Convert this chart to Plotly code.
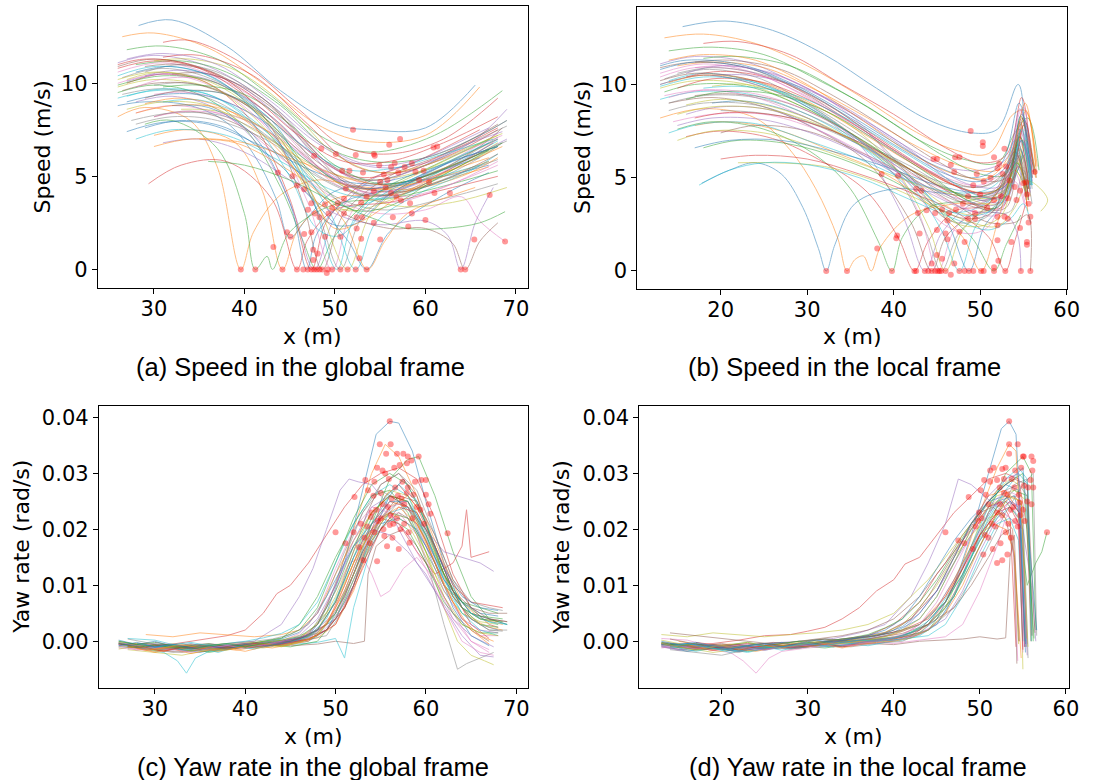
import plotly.graph_objects as go

# ---------------- (a) Speed in the global frame ----------------
speed_global_x = [
    [28.3, 32, 38, 44, 50, 54, 60, 65.5],
    [26.5, 30, 36, 42, 48, 53, 60, 66],
    [27, 31, 37, 43, 49, 54, 61, 68.5],
    [31, 34, 40, 46, 51, 56, 62, 68],
    [26, 30, 36, 42, 48, 53, 59, 65, 69],
    [26, 30, 36, 43, 49, 54, 60, 66, 68.5],
    [26, 31, 37, 44, 50, 55, 61, 68],
    [26.5, 31, 37, 44, 49, 54, 60, 68],
    [26, 30, 36, 42, 47, 51, 56, 62, 68],
    [26, 30, 36, 42, 47, 51, 57, 63, 68],
    [26, 29, 34, 38, 41, 43.5, 45, 47, 50, 56, 62, 67],
    [26, 29, 34, 37, 39.6, 41, 44, 48, 52, 58, 64, 68],
    [26, 30, 35, 40, 44, 46.5, 48, 50, 55, 61, 67],
    [27, 31, 36, 41, 45, 47.4, 49, 53, 59, 66],
    [28, 32, 37, 42, 45.5, 47.7, 50, 54, 60, 67],
    [29, 33, 38, 43, 46.5, 48.6, 51, 56, 62, 68],
    [26, 31, 37, 43, 47, 49.7, 52, 57, 63, 68.5],
    [30, 34, 39, 44, 48, 50.6, 53, 58, 64, 69],
    [27, 31, 37, 43, 48, 51.4, 54, 59, 65, 68],
    [31, 35, 40, 45, 49.5, 52.3, 54.5, 59, 65, 68],
    [29, 33, 38, 43, 48, 51.5, 53.5, 56, 62, 67],
    [30, 34, 39, 42, 44.2, 46, 50, 56, 62, 67],
    [29, 32, 37, 40, 41.2, 42.5, 43.1, 45, 50, 56, 63, 68],
    [29.4, 33, 38, 43, 45.8, 47, 50, 56, 63, 68],
    [31, 35, 40, 45, 50, 55, 60, 62.5, 63.9, 65.5, 67.5],
    [30, 34, 40, 46, 51, 56, 60, 63, 64.4, 66, 68],
    [28, 32, 38, 44, 50, 55, 60, 64, 66, 68.8],
    [26.5, 31, 37, 43, 49, 54, 60, 66, 68.5],
    [27, 31, 36, 42, 48, 53, 59, 65, 68],
    [28, 32, 38, 44, 50, 55, 61, 67],
    [27, 31, 36, 42, 48, 53, 58, 64, 68],
    [30, 34, 40, 46, 52, 57, 62, 67],
    [28, 33, 38, 44, 49, 54, 60, 66, 69],
    [31, 35, 41, 47, 52, 57, 63, 68],
    [29, 33, 39, 45, 50, 55, 61, 67, 69],
    [32, 36, 42, 47, 52, 57, 62, 67.5],
    [30, 34, 39, 45, 50, 56, 62, 68],
    [27.5, 32, 38, 44, 49, 55, 62, 68],
    [33, 37, 42, 47, 52, 57, 63, 69],
    [34, 38, 43, 47, 50.2, 52, 55, 60, 66],
    [32, 36, 41, 45, 46.9, 48, 51, 55, 61, 66],
    [35, 39, 44, 48, 51, 53.6, 55.5, 58, 62.5, 65.5],
    [36, 40, 45, 50, 55, 58, 62, 66, 68.8],
    [26, 30, 35, 41, 47, 52, 57, 63, 68],
    [27, 31, 36, 42, 48, 53, 58, 64, 68.5],
    [26.5, 30, 35, 41, 46, 51, 56, 62, 67],
    [28, 32, 37, 43, 48, 53, 58, 64, 68],
    [29, 33, 38, 44, 49, 54, 59, 65, 69],
    [30, 34, 39, 45, 50, 55, 60, 66, 68.5],
    [26, 30, 35, 40, 46, 51, 56, 62, 67.5],
    [27, 31, 36, 42, 47, 52, 57, 63, 68],
    [28, 32, 37, 42, 47, 52, 57, 62, 67],
    [31, 35, 40, 45, 50, 55, 60, 65, 68.5],
    [26, 29, 34, 40, 46, 51, 56, 62, 68],
    [27, 31, 37, 43, 49, 54, 60, 66, 69],
    [29, 33, 38, 43, 48, 53, 58, 63, 68],
    [30, 34, 39, 44, 49, 54, 59, 64, 68],
    [28, 32, 37, 43, 48, 53, 58, 64, 68],
    [26, 30, 35, 41, 45, 48, 51, 56, 62, 68],
    [27, 31, 36, 41, 45, 48, 50.5, 54, 60, 67],
    [28, 32, 37, 42, 46, 49, 52, 56, 62, 68],
    [29, 33, 38, 43, 47, 50, 53, 58, 64, 68.5],
    [26, 31, 37, 43, 48, 52, 56, 61, 67],
]
speed_global_y = [
    [13.1, 13.4, 12.0, 9.6, 7.8, 7.5, 7.6, 9.9],
    [12.5, 12.7, 11.9, 10.0, 7.8, 6.9, 7.2, 9.8],
    [11.8, 12.0, 11.3, 9.3, 7.0, 6.3, 7.2, 9.6],
    [12.2, 12.3, 11.0, 8.6, 6.6, 6.2, 7.0, 9.2],
    [11.1, 11.5, 10.9, 9.2, 6.8, 5.6, 5.6, 6.8, 8.6],
    [10.9, 11.3, 10.7, 8.7, 5.8, 4.6, 5.0, 6.6, 7.6],
    [10.6, 11.1, 10.3, 8.2, 5.4, 4.4, 5.4, 7.3],
    [10.3, 10.8, 10.1, 7.8, 5.1, 3.9, 4.9, 7.1],
    [9.8, 10.2, 9.8, 8.2, 5.2, 3.2, 3.7, 5.1, 6.6],
    [9.2, 9.6, 9.4, 7.6, 4.8, 3.4, 4.2, 5.6, 6.9],
    [8.8, 9.0, 8.8, 7.9, 6.2, 3.8, 1.7, 2.8, 4.2, 4.6, 5.0, 5.6],
    [8.2, 8.7, 8.0, 5.5, 0.0, 2.0, 4.0, 4.8, 4.5, 4.3, 5.0, 6.0],
    [9.5, 9.9, 9.4, 7.6, 4.4, 1.5, 0.0, 1.8, 4.2, 5.6, 7.0],
    [10.0, 10.5, 10.0, 7.8, 3.8, 0.0, 2.5, 4.6, 5.8, 7.5],
    [9.0, 9.3, 8.6, 6.4, 3.0, 0.0, 2.8, 4.8, 6.0, 7.6],
    [10.9, 11.0, 10.2, 7.6, 3.5, 0.0, 3.0, 5.0, 6.2, 7.8],
    [10.0, 10.5, 9.7, 7.3, 3.6, 0.0, 3.2, 5.0, 6.1, 7.2],
    [9.9, 10.0, 9.2, 7.0, 3.2, 0.0, 2.8, 4.6, 5.8, 6.9],
    [10.2, 10.6, 9.9, 7.6, 3.6, 0.0, 3.0, 4.8, 6.0, 6.8],
    [9.0, 9.1, 8.2, 6.2, 3.0, 0.0, 2.5, 4.0, 5.3, 6.2],
    [7.6, 8.0, 7.6, 6.0, 3.5, 1.5, 0.0, 2.0, 4.0, 5.2],
    [7.2, 7.5, 6.8, 4.2, 0.0, 2.2, 3.8, 4.0, 4.8, 5.5],
    [7.8, 8.0, 6.5, 3.0, 0.0, 0.7, 0.0, 2.0, 3.5, 3.8, 4.6, 5.3],
    [4.6, 5.6, 5.8, 3.8, 0.0, 1.6, 3.2, 3.6, 4.4, 5.0],
    [6.8, 7.0, 6.3, 4.8, 3.0, 2.4, 2.6, 1.8, 0.0, 2.5, 4.4],
    [8.2, 8.5, 7.6, 5.2, 3.0, 2.2, 2.2, 1.4, 0.0, 1.5, 2.5],
    [8.4, 8.8, 8.2, 6.0, 3.8, 3.0, 3.2, 3.9, 2.6, 1.5],
    [9.4, 9.7, 9.0, 7.0, 4.8, 4.0, 4.6, 6.0, 6.8],
    [8.6, 9.0, 8.8, 7.2, 5.5, 4.8, 5.2, 6.3, 7.0],
    [7.0, 7.5, 7.2, 5.8, 4.2, 3.8, 4.6, 5.8],
    [7.4, 7.9, 7.8, 6.6, 5.2, 4.6, 5.0, 6.0, 6.6],
    [6.6, 7.0, 6.8, 5.8, 4.8, 4.5, 5.0, 5.8],
    [11.0, 11.2, 10.6, 8.8, 6.6, 5.8, 6.0, 7.2, 8.0],
    [11.4, 11.5, 10.4, 7.8, 5.6, 5.2, 6.2, 7.5],
    [10.4, 10.7, 10.0, 7.6, 5.0, 4.2, 5.0, 6.5, 7.0],
    [10.5, 10.5, 9.2, 6.6, 4.4, 4.0, 5.2, 6.8],
    [9.4, 9.5, 8.8, 6.8, 4.6, 3.6, 4.4, 5.8],
    [8.0, 8.4, 8.2, 6.6, 4.2, 3.2, 3.8, 4.6],
    [8.6, 8.5, 7.6, 5.8, 4.2, 3.4, 3.6, 4.4],
    [9.6, 9.4, 8.0, 4.6, 0.0, 2.6, 4.2, 4.8, 5.6],
    [8.8, 8.7, 7.2, 3.6, 0.0, 1.9, 3.6, 4.2, 5.2, 6.0],
    [7.0, 6.8, 5.6, 4.2, 2.6, 0.0, 1.5, 3.0, 3.9, 4.4],
    [5.8, 5.6, 4.8, 3.6, 2.6, 2.2, 2.2, 2.5, 3.1],
    [10.8, 11.2, 10.8, 9.0, 6.4, 5.0, 5.2, 6.4, 7.6],
    [10.1, 10.5, 10.2, 8.6, 6.0, 4.8, 5.2, 6.6, 7.4],
    [9.6, 10.0, 9.9, 8.6, 6.4, 4.6, 4.4, 5.4, 6.4],
    [9.8, 10.3, 10.0, 8.0, 5.6, 4.2, 4.4, 5.8, 7.0],
    [10.6, 11.0, 10.4, 8.4, 5.8, 4.8, 5.4, 6.8, 7.7],
    [11.2, 11.3, 10.7, 8.6, 6.2, 5.2, 5.6, 6.8, 7.3],
    [10.4, 10.9, 10.6, 9.2, 6.8, 5.4, 5.4, 6.2, 7.0],
    [9.0, 9.4, 9.3, 8.0, 5.8, 4.4, 4.6, 5.8, 6.6],
    [8.4, 8.8, 8.7, 7.6, 5.6, 4.4, 4.4, 5.2, 6.0],
    [9.8, 9.9, 9.4, 7.8, 5.6, 4.6, 5.0, 6.0, 6.8],
    [11.0, 11.3, 11.0, 9.6, 7.2, 5.8, 5.8, 6.8, 8.2],
    [11.3, 11.6, 11.0, 9.0, 6.6, 5.6, 6.0, 7.2, 8.0],
    [9.2, 9.6, 9.4, 8.0, 5.8, 4.4, 4.2, 5.0, 6.2],
    [8.2, 8.5, 8.2, 7.0, 5.2, 4.0, 4.0, 4.8, 5.6],
    [7.8, 8.2, 8.0, 6.8, 5.0, 4.0, 4.2, 5.2, 5.9],
    [10.2, 10.6, 10.2, 8.2, 5.8, 3.6, 3.2, 4.4, 5.8, 7.2],
    [9.3, 9.7, 9.4, 7.8, 5.0, 2.2, 1.8, 3.6, 5.2, 6.8],
    [10.6, 10.9, 10.2, 8.0, 5.2, 2.6, 2.4, 4.0, 5.6, 7.0],
    [8.9, 9.2, 8.6, 6.8, 4.4, 2.2, 2.6, 4.2, 5.6, 6.6],
    [9.9, 10.4, 10.0, 7.8, 4.8, 3.2, 3.4, 4.8, 6.4],
]
speed_global_dot_x = [
    52.0, 56.0, 57.2, 61.3, 60.9, 47.7, 50.1, 52.3, 54.3, 54.4, 48.5, 43.7, 45.3, 45.8,
    46.6, 50.8, 51.6, 53.1, 54.9, 55.4, 56.2, 56.6, 57.0, 57.7, 58.5, 58.9, 59.3, 59.8,
    60.4, 61.0, 62.7, 67.1, 55.0, 55.6, 55.8, 56.2, 56.8, 57.3, 58.3, 54.3, 53.5, 52.9,
    51.2, 51.0, 50.3, 49.7, 49.3, 48.9, 47.4, 47.0, 47.8, 48.3, 51.0, 52.4, 53.0, 54.3,
    56.4, 58.5, 60.0, 58.1, 47.4, 46.6, 44.7, 45.1, 48.9, 50.6, 52.4, 52.9, 55.0, 65.4,
    68.8, 43.2, 47.6, 48.1, 52.7, 47.6,
    39.6, 41.2, 44.2, 45.8, 46.5, 47.0, 47.4, 47.7, 48.0, 48.3, 48.6, 49.2, 49.7, 50.6,
    51.4, 52.3, 53.5, 63.9, 64.4, 49.1,
]
speed_global_dot_y = [
    7.5, 6.7, 7.0, 6.6, 6.55, 6.1, 6.2, 6.15, 6.2, 6.1, 6.5, 5.2, 5.0, 4.5,
    4.3, 5.3, 5.3, 5.2, 5.6, 5.1, 5.5, 5.7, 5.2, 5.5, 5.7, 5.25, 4.8, 5.3,
    4.7, 4.1, 4.1, 4.0, 4.7, 4.4, 4.8, 4.1, 3.9, 3.7, 3.55, 4.2, 3.9, 3.6,
    4.35, 3.8, 3.55, 3.3, 3.0, 3.5, 3.55, 3.2, 3.0, 2.8, 3.0, 2.8, 2.8, 2.5,
    2.8, 3.0, 2.65, 2.3, 2.0, 1.9, 2.0, 1.75, 1.75, 1.75, 2.2, 1.65, 1.6, 1.6,
    1.5, 1.2, 1.05, 0.85, 0.6, 0.5,
    0, 0, 0, 0, 0, 0, 0, 0, 0, 0, 0, 0, 0, 0,
    0, 0, 0, 0, 0, -0.2,
]

# ---------------- (b) Speed in the local frame ----------------
speed_local_x = [
    [15.6, 20.5, 26, 32, 38, 44, 49, 52, 54.4, 55.5, 56.5],
    [13.5, 18, 24, 30, 36, 42, 47, 51, 53.8, 55.2, 56.5],
    [14, 19, 25, 31, 37, 43, 48, 52, 54, 55.5, 56.8],
    [18, 22, 28, 34, 40, 46, 50, 53, 54.8, 56],
    [13, 17, 23, 29, 35, 41, 46, 50, 53, 54.6, 55.8],
    [13, 17, 23, 29, 35, 41, 46, 50, 53, 54.6, 55.6],
    [13, 18, 24, 30, 36, 42, 47, 51, 53.5, 55, 56],
    [13.5, 18, 24, 30, 36, 42, 46, 50, 53, 54.5, 55.5],
    [13, 17, 23, 29, 35, 41, 45, 49, 52.5, 54.2, 55.3],
    [13, 17, 23, 29, 35, 40, 44.5, 48.5, 52, 54, 55.2],
    [17.8, 21, 24, 27, 29.5, 31.3, 32.2, 33.2, 35.5, 40, 45, 50, 53, 54.8, 56],
    [13, 18, 24, 28, 31, 33.5, 34.6, 35.5, 36.5, 37.4, 38.5, 42, 47, 52, 54.5, 55.8],
    [15, 19, 25, 31, 35, 38.2, 39.8, 41, 44, 49, 53, 55],
    [16, 20, 26, 32, 37, 40.5, 42.4, 44, 47, 51, 54.2, 55.4],
    [13, 18, 24, 30, 36, 41, 43.6, 45.5, 49, 53, 54.8, 55.8],
    [14, 19, 25, 31, 37, 42, 44.4, 46, 49, 52.5, 54.4, 55.6],
    [17, 21, 27, 33, 38, 43, 45.1, 47, 50, 53, 54.8],
    [13, 18, 24, 30, 36, 41, 43.8, 45.5, 47.5, 51, 54, 55.3],
    [19, 23, 29, 35, 40, 44, 46, 48, 51, 54, 55.4],
    [14, 18, 24, 30, 36, 42, 45.5, 47.6, 49.5, 52.5, 54.6],
    [19, 23, 29, 35, 41, 46, 48.7, 50.5, 53, 55],
    [17, 21, 27, 33, 39, 44, 48, 50.1, 52, 54.3, 55.5],
    [18, 22, 28, 34, 40, 45, 49, 51.6, 53, 54.7],
    [20, 24, 30, 36, 42, 47, 51, 52.9, 54, 55.2],
    [16, 20, 26, 32, 38, 44, 49, 53, 54.3, 54.7],
    [20, 24, 30, 36, 42, 47, 51, 54, 55.5, 55.8],
    [13.5, 18, 24, 30, 36, 42, 47, 51, 53.5, 55, 56.5],
    [14, 18, 24, 30, 36, 42, 47, 51, 53.5, 55, 56.3],
    [15, 19, 25, 31, 37, 43, 48, 52, 54, 55.3, 56.5],
    [14, 18, 24, 30, 36, 42, 47, 51, 53.5, 55, 56],
    [17, 21, 27, 33, 39, 45, 50, 53, 54.5, 55.8],
    [15, 19, 25, 31, 37, 43, 48, 52, 54, 55.3, 56.6],
    [18, 22, 28, 34, 40, 46, 50, 53, 54.7, 56],
    [16, 20, 26, 32, 38, 44, 49, 52.5, 54.5, 55.6],
    [19, 23, 29, 35, 41, 46, 50, 53, 54.8, 56],
    [17, 21, 27, 33, 39, 45, 49.5, 53, 54.5, 55.6],
    [14.5, 19, 25, 31, 37, 43, 48, 52, 54, 55.2],
    [20, 24, 30, 36, 42, 47, 51, 53.5, 55, 56],
    [22, 26, 32, 38, 44, 49, 52, 54, 55.5, 56.5, 57.8, 57],
    [17.5, 21, 25, 30, 36, 42, 47, 51, 53.5, 55, 55.8],
    [13, 17, 23, 29, 35, 41, 46, 50, 53, 54.8, 56.2],
    [14, 18, 24, 30, 36, 42, 47, 51, 53.5, 55, 56.4],
    [13.5, 17, 23, 29, 35, 41, 46, 50, 53, 54.6, 55.8],
    [15, 19, 25, 31, 37, 43, 48, 51.5, 53.8, 55.2, 56.2],
    [16, 20, 26, 32, 38, 44, 49, 52.5, 54.5, 55.8],
    [17, 21, 27, 33, 39, 45, 49.5, 53, 54.8, 56],
    [13, 17, 23, 29, 35, 41, 46, 50, 53, 54.7, 56],
    [14, 18, 24, 30, 36, 42, 47, 51, 53.5, 55, 56],
    [15, 19, 25, 31, 37, 43, 48, 52, 54, 55.4],
    [18, 22, 28, 34, 40, 46, 50, 53, 54.7, 55.9],
    [13, 16, 22, 28, 34, 40, 45, 49.5, 52.5, 54.5, 55.8],
    [14, 18, 24, 30, 36, 42, 47, 51, 53.6, 55.2, 56.4],
    [16, 20, 26, 32, 38, 44, 48.5, 52, 54.2, 55.5],
    [17, 21, 27, 33, 39, 45, 49, 52.5, 54.4, 55.6],
    [15, 19, 25, 31, 37, 43, 48, 52, 54, 55.3],
    [13, 17, 23, 29, 35, 41, 45, 48.5, 51.5, 54, 55.4],
    [14, 18, 24, 30, 36, 41.5, 45.5, 48.5, 51, 53.8, 55.2],
    [15, 19, 25, 31, 37, 42, 46, 49, 51.5, 54, 55.4],
    [16, 20, 26, 32, 38, 43, 47, 50, 52.5, 54.3, 55.5],
    [13, 18, 24, 30, 36, 42, 46.5, 50, 53, 54.8, 56],
]
speed_local_y = [
    [13.1, 13.4, 12.9, 11.6, 9.8, 8.1, 7.4, 7.6, 10.0, 6.5, 5.3],
    [12.5, 12.7, 12.2, 11.0, 9.4, 7.6, 6.5, 6.3, 8.4, 8.6, 5.2],
    [11.8, 12.0, 11.6, 10.3, 8.8, 7.0, 6.0, 5.8, 7.4, 8.2, 5.4],
    [12.2, 12.3, 11.6, 10.0, 8.4, 6.6, 5.8, 6.2, 9.3, 5.0],
    [11.1, 11.5, 11.2, 10.0, 8.6, 6.8, 5.6, 5.4, 6.0, 8.7, 4.6],
    [10.9, 11.2, 10.9, 9.7, 8.0, 6.2, 4.9, 4.5, 5.4, 8.0, 4.4],
    [10.6, 11.1, 10.6, 9.3, 7.6, 5.8, 4.6, 4.2, 5.6, 8.8, 4.8],
    [10.3, 10.8, 10.4, 9.0, 7.3, 5.4, 4.0, 3.6, 4.8, 7.4, 4.2],
    [9.8, 10.2, 10.0, 8.9, 7.4, 5.5, 3.8, 3.0, 3.8, 6.8, 4.0],
    [9.2, 9.6, 9.5, 8.6, 7.1, 5.2, 3.4, 3.2, 4.2, 7.0, 4.3],
    [4.7, 5.4, 5.8, 5.2, 3.4, 1.2, 0.0, 1.4, 3.6, 4.4, 4.2, 4.0, 4.6, 7.0, 5.0],
    [8.2, 8.7, 8.2, 6.5, 4.4, 1.8, 0.0, 0.6, 0.8, 0.0, 1.3, 3.0, 3.6, 3.8, 6.5, 4.0],
    [7.6, 8.0, 7.6, 6.2, 4.4, 1.6, 0.0, 1.8, 3.4, 3.8, 4.4, 6.2],
    [7.2, 7.5, 7.1, 5.8, 4.2, 1.8, 0.0, 1.6, 3.2, 3.6, 6.2, 3.5],
    [10.0, 10.5, 10.0, 8.8, 6.8, 3.0, 0.0, 2.0, 3.6, 4.2, 7.5, 4.2],
    [9.0, 9.3, 8.8, 7.6, 5.8, 2.6, 0.0, 1.8, 3.0, 3.6, 6.8, 3.8],
    [10.9, 11.0, 10.4, 9.0, 7.0, 3.0, 0.0, 2.2, 3.6, 4.6, 8.0],
    [10.0, 10.5, 10.0, 8.8, 7.0, 4.6, 2.0, 0.0, 2.0, 3.6, 6.0, 3.8],
    [9.9, 10.0, 9.2, 7.8, 5.6, 2.4, 0.0, 2.2, 3.6, 5.4, 4.0],
    [10.2, 10.6, 10.1, 8.8, 6.8, 4.6, 2.2, 0.0, 2.4, 4.0, 7.6],
    [9.0, 9.1, 8.4, 7.0, 5.4, 2.8, 0.0, 2.4, 3.8, 6.5],
    [7.8, 8.0, 7.5, 6.4, 5.2, 3.6, 1.8, 0.0, 2.6, 6.0, 3.2],
    [6.6, 7.0, 6.8, 6.0, 4.8, 3.4, 1.8, 0.0, 1.4, 3.0],
    [6.0, 6.2, 6.0, 5.2, 4.2, 3.2, 1.8, 0.0, 1.6, 3.5],
    [8.4, 8.8, 8.6, 7.4, 5.8, 4.2, 3.2, 3.0, 2.0, 0.0],
    [7.4, 7.8, 7.5, 6.4, 5.0, 3.6, 2.6, 2.6, 3.0, 0.0],
    [9.4, 9.7, 9.3, 8.2, 6.8, 5.2, 4.2, 4.0, 5.0, 7.6, 5.0],
    [8.6, 9.0, 8.9, 8.0, 6.8, 5.4, 4.6, 4.6, 5.6, 8.2, 5.4],
    [7.0, 7.5, 7.4, 6.6, 5.6, 4.6, 4.0, 4.0, 5.2, 7.0, 5.0],
    [7.4, 7.9, 7.9, 7.0, 6.0, 4.8, 4.2, 4.4, 5.6, 7.8, 4.6],
    [6.6, 7.0, 7.0, 6.4, 5.6, 4.6, 4.2, 4.6, 6.6, 4.4],
    [11.0, 11.2, 10.9, 9.7, 8.2, 6.6, 5.6, 5.4, 6.5, 8.6, 5.6],
    [11.4, 11.5, 11.0, 9.6, 7.9, 6.1, 5.2, 5.2, 8.3, 5.0],
    [10.4, 10.7, 10.3, 9.0, 7.2, 5.4, 4.2, 4.0, 7.2, 4.4],
    [10.5, 10.5, 9.9, 8.5, 6.8, 5.0, 3.8, 3.8, 7.0, 4.8],
    [9.4, 9.5, 9.1, 7.9, 6.2, 4.4, 3.4, 3.4, 6.2, 3.8],
    [8.0, 8.4, 8.4, 7.6, 6.2, 4.6, 3.4, 3.0, 4.8, 3.4],
    [8.6, 8.5, 8.0, 6.9, 5.6, 4.2, 3.2, 3.2, 5.4, 3.6],
    [5.8, 5.8, 5.6, 4.8, 3.6, 2.6, 2.4, 3.4, 4.8, 4.6, 3.8, 3.2],
    [4.6, 5.4, 5.8, 5.7, 5.0, 3.8, 2.8, 2.2, 2.8, 3.6, 2.6],
    [10.8, 11.2, 10.9, 9.8, 8.2, 6.5, 5.2, 4.8, 5.6, 8.4, 5.2],
    [10.1, 10.5, 10.2, 9.1, 7.5, 5.8, 4.6, 4.2, 5.0, 7.8, 5.0],
    [9.6, 10.0, 9.9, 8.9, 7.4, 5.7, 4.4, 4.0, 4.8, 7.2, 4.6],
    [9.8, 10.3, 10.1, 9.0, 7.4, 5.6, 4.4, 4.2, 5.6, 8.0, 5.2],
    [10.6, 11.0, 10.6, 9.3, 7.6, 5.8, 4.6, 4.6, 7.6, 5.0],
    [11.2, 11.3, 10.8, 9.4, 7.7, 5.9, 4.9, 5.0, 8.2, 5.3],
    [10.4, 10.9, 10.7, 9.6, 8.0, 6.2, 5.0, 4.6, 5.6, 8.6, 5.0],
    [9.0, 9.4, 9.3, 8.4, 7.0, 5.4, 4.2, 3.8, 4.6, 7.0, 4.4],
    [8.4, 8.8, 8.7, 7.9, 6.6, 5.2, 4.0, 3.6, 5.4, 4.2],
    [9.8, 9.9, 9.5, 8.3, 6.7, 5.0, 4.0, 4.0, 7.0, 4.6],
    [11.0, 11.3, 11.1, 10.1, 8.6, 6.9, 5.6, 5.0, 5.8, 9.0, 5.4],
    [11.3, 11.6, 11.3, 10.0, 8.2, 6.3, 5.2, 5.0, 6.4, 9.0, 5.6],
    [9.2, 9.6, 9.5, 8.6, 7.0, 5.2, 3.8, 3.4, 5.8, 4.4],
    [8.2, 8.5, 8.3, 7.5, 6.2, 4.6, 3.6, 3.4, 5.6, 4.0],
    [7.8, 8.2, 8.1, 7.3, 6.1, 4.7, 3.8, 3.6, 5.8, 4.0],
    [10.2, 10.6, 10.3, 9.2, 7.4, 5.2, 3.4, 2.8, 3.2, 6.4, 4.0],
    [9.3, 9.7, 9.5, 8.6, 7.0, 4.8, 2.6, 2.0, 2.4, 5.4, 3.6],
    [10.6, 10.9, 10.5, 9.3, 7.4, 5.0, 2.8, 2.6, 3.2, 6.6, 4.0],
    [8.9, 9.2, 8.8, 7.8, 6.2, 4.4, 2.6, 2.4, 3.0, 5.8, 3.8],
    [9.9, 10.4, 10.1, 8.9, 7.0, 4.8, 3.2, 3.0, 4.0, 7.6, 4.6],
]
speed_local_dot_x = [
    48.9, 50.3, 50.3, 47.1, 47.6, 44.6, 45.0, 46.6, 47.0, 38.6, 40.5, 42.6, 43.2, 52.8,
    51.6, 52.2, 53.0, 52.0, 52.6, 51.2, 53.4, 54.0, 55.0, 56.3, 55.3, 49.6, 49.2, 50.0,
    50.4, 48.6, 48.0, 47.2, 46.4, 45.6, 44.8, 43.8, 42.8, 51.6, 52.4, 53.2, 54.2, 54.6,
    55.4, 55.6, 50.8, 49.4, 48.6, 49.4, 52.0, 52.8, 53.2, 55.8, 55.6, 54.6, 52.0, 46.2,
    45.0, 46.0, 47.6, 48.2, 46.2, 43.0, 40.4, 40.3, 38.1, 52.0, 53.6, 55.4, 55.4, 45.0,
    45.6, 47.0, 44.4, 51.6, 52.1,
    32.2, 34.6, 39.8, 42.4, 42.6, 43.6, 44.0, 44.4, 44.8, 45.1, 45.3, 45.5, 46.0, 47.6,
    48.2, 48.7, 49.2, 50.1, 50.4, 51.6, 52.9, 54.7, 55.8, 46.6,
]
speed_local_dot_y = [
    7.5, 6.9, 6.7, 6.1, 6.1, 6.0, 6.0, 5.7, 5.3, 5.2, 5.1, 4.4, 4.3, 6.55,
    6.1, 5.75, 5.6, 5.5, 5.2, 5.0, 4.85, 4.5, 4.7, 5.3, 4.75, 5.2, 4.6, 4.1,
    4.8, 4.0, 3.6, 3.3, 3.1, 3.3, 3.1, 3.25, 3.1, 3.8, 4.0, 3.9, 3.8, 4.3,
    4.1, 3.6, 3.4, 3.1, 2.8, 2.8, 2.9, 2.9, 2.8, 2.9, 2.6, 2.3, 2.45, 2.7,
    2.2, 2.0, 2.1, 1.55, 1.7, 2.0, 1.9, 1.75, 1.2, 1.65, 1.55, 1.55, 1.4, 0.85,
    0.65, 0.4, 0.4, 0.2, 0.55,
    0, 0, 0, 0, 0, 0, 0, 0, 0, 0, 0, 0, 0, 0,
    0, 0, 0, 0, 0, 0, 0, 0, 0, -0.2,
]

# ---------------- (c) Yaw rate in the global frame ----------------
yaw_global_x = [
    [26.5, 29, 32, 35, 38, 41, 44, 47, 49, 51, 53, 54.5, 56, 57, 58.5, 60, 62, 64, 66, 68],
    [26, 28, 31, 34, 37, 40, 43, 46, 48, 50, 52, 54, 55.5, 57, 59, 61, 63, 65, 67, 68.5],
    [27, 30, 33, 36, 39, 42, 45, 48, 50, 52, 54, 56, 58, 59.2, 61, 63, 65, 67, 69],
    [26, 29, 32, 35, 38, 40, 42, 43.5, 45, 47, 49, 51, 53, 55, 57, 59, 61, 63, 65, 67, 68],
    [26, 30, 34, 38, 41, 44, 46, 47.5, 49, 50.5, 51.5, 52.5, 54, 55.5, 57, 59, 61, 63, 65, 67.5],
    [27, 30, 33, 36, 39, 42, 45, 48, 50, 52, 53.2, 53.6, 54.5, 56, 57.5, 59, 61, 63, 65, 67],
    [28, 31, 34, 37, 40, 43, 46, 48, 50, 51.5, 53, 54, 55, 56, 57.5, 59, 61, 63, 65, 67],
    [26, 29, 32, 35, 38, 41, 44, 47, 49, 51, 53, 55, 57, 59, 60.5, 62, 63.5, 64.5, 66, 67.5],
    [27, 30, 33, 36, 39, 42, 45, 48, 50, 52, 54, 56, 58, 60, 62, 63.5, 65, 66.5, 67.5],
    [26, 29, 31, 32.5, 33.5, 34.5, 36, 39, 42, 45, 48, 50, 52, 54, 56, 58, 60, 62, 64, 66, 68],
    [26, 29, 32, 35, 38, 41, 44, 47, 50, 52, 54, 56, 57.5, 59, 61, 63, 65, 67, 69],
    [27, 30, 33, 36, 39, 42, 45, 48, 50, 52, 54, 56, 58, 60, 62, 64, 66, 68.5],
    [26, 29, 32, 35, 38, 41, 44, 46, 48, 50, 52, 54, 56, 58, 60, 62, 64, 66, 68],
    [28, 31, 34, 37, 40, 43, 46, 49, 51, 53, 55, 57, 59, 61, 63, 64, 64.5, 65, 67],
    [26, 29, 32, 35, 38, 41, 44, 47, 50, 52, 54, 56, 58, 60, 62, 64, 66, 67.5],
    [27, 30, 33, 36, 39, 42, 45, 48, 50, 52, 53.5, 55, 57, 59, 61, 63, 65, 67, 69],
    [26, 29, 32, 35, 38, 41, 44, 47, 49, 51, 53, 55, 57, 59, 61, 63, 65, 67],
    [28, 31, 34, 37, 40, 43, 46, 49, 51, 53, 55, 57, 59, 61, 63, 65, 67, 69],
    [26, 29, 32, 35, 38, 41, 44, 47, 50, 52, 54, 56, 58, 60, 62, 64, 66, 68],
    [27, 30, 33, 36, 39, 42, 45, 48, 50, 51, 52, 54, 56, 58, 60, 62, 64, 66, 68],
    [26, 29, 32, 35, 38, 41, 44, 47, 49, 51, 53, 55, 57, 59, 61, 63, 65, 67],
    [29, 32, 35, 38, 41, 44, 46, 48, 50, 52, 54, 56, 58, 60, 62, 64, 66, 68],
    [27, 30, 33, 36, 39, 42, 45, 48, 50, 52, 54, 56, 58, 60, 62, 64, 66, 68],
    [26, 29, 32, 35, 38, 41, 44, 47, 50, 52, 54, 55.5, 57, 59, 61, 63, 65, 67, 68.5],
    [28, 31, 34, 37, 40, 43, 46, 48, 50, 52, 54, 56, 58, 60, 62, 64, 66, 67.5],
    [26, 29, 32, 35, 38, 41, 44, 47, 49, 51, 53, 55, 57, 59, 61, 63, 65, 67, 69],
    [30, 33, 36, 39, 42, 45, 48, 50, 52, 54, 56, 58, 60, 62, 64, 66, 68],
    [26, 28, 31, 34, 37, 40, 43, 46, 49, 51, 53, 55, 57, 59, 61, 63, 65, 67, 68.5],
    [26, 28, 30, 32, 34, 36, 38, 40, 42, 44, 46, 48, 50, 52, 54, 56, 58, 60, 62, 64, 66, 68],
    [27, 29, 31, 33, 35, 37, 39, 41, 43, 45, 47, 49, 51, 53, 55, 57, 59, 61, 63, 65, 67, 69],
    [26, 28, 30, 32, 34, 36, 38, 40, 42, 44, 46, 48, 50, 52, 54, 56, 58, 60, 62, 64, 66, 68],
    [28, 30, 32, 34, 36, 38, 40, 42, 44, 46, 48, 50, 52, 54, 56, 58, 60, 62, 64, 66, 67.5],
    [26, 28, 30, 32, 34, 36, 38, 40, 42, 44, 46, 48, 50, 52, 54, 56, 58, 60, 62, 64, 66, 68.5],
    [27, 29, 31, 33, 35, 37, 39, 41, 43, 45, 47, 49, 51, 53, 55, 57, 59, 61, 63, 65, 67],
    [26, 28, 30, 32, 34, 36, 38, 40, 42, 44, 46, 48, 50, 52, 54, 56, 58, 60, 62, 64, 66, 68],
    [29, 31, 33, 35, 37, 39, 41, 43, 45, 47, 49, 51, 53, 55, 57, 59, 61, 63, 65, 67, 69],
    [26, 28, 30, 32, 34, 36, 38, 40, 42, 44, 46, 48, 50, 52, 54, 56, 58, 60, 62, 64, 66, 67.5],
    [27, 29, 31, 33, 35, 37, 39, 41, 43, 45, 47, 49, 51, 53, 55, 57, 59, 61, 63, 65, 67, 68.5],
    [26, 28, 30, 32, 34, 36, 38, 40, 42, 44, 46, 48, 50, 52, 54, 56, 58, 60, 62, 64, 66, 68],
    [28, 30, 32, 34, 36, 38, 40, 42, 44, 46, 48, 50, 52, 54, 56, 58, 60, 62, 64, 66, 68],
    [26, 28, 30, 32, 34, 36, 38, 40, 42, 44, 46, 48, 50, 52, 54, 56, 58, 60, 62, 64, 66, 68],
    [27, 29, 31, 33, 35, 37, 39, 41, 43, 45, 47, 49, 51, 53, 55, 57, 59, 61, 63, 65, 67],
    [26, 28, 30, 32, 34, 36, 38, 40, 42, 44, 46, 48, 50, 52, 54, 56, 58, 60, 62, 64, 66, 68.5],
]
yaw_global_y = [
    [-0.0005, -0.0012, -0.0010, -0.0015, -0.0012, -0.0008, 0.0000, 0.0010, 0.0050, 0.0140, 0.0270, 0.0370, 0.0393, 0.0390, 0.0340, 0.0250, 0.0140, 0.0060, 0.0030, 0.0020],
    [-0.0003, -0.0010, -0.0018, -0.0008, -0.0015, -0.0010, -0.0005, 0.0005, 0.0030, 0.0100, 0.0200, 0.0300, 0.0352, 0.0330, 0.0260, 0.0160, 0.0080, 0.0040, 0.0025, 0.0020],
    [-0.0008, -0.0016, -0.0010, -0.0020, -0.0012, -0.0006, 0.0000, 0.0015, 0.0050, 0.0120, 0.0210, 0.0290, 0.0325, 0.0330, 0.0260, 0.0160, 0.0080, 0.0040, 0.0030],
    [-0.0005, -0.0010, -0.0005, 0.0003, 0.0010, 0.0020, 0.0050, 0.0085, 0.0100, 0.0140, 0.0190, 0.0240, 0.0280, 0.0300, 0.0310, 0.0290, 0.0220, 0.0120, 0.0060, 0.0030, 0.0025],
    [-0.0010, -0.0015, -0.0008, -0.0005, 0.0000, 0.0030, 0.0080, 0.0130, 0.0200, 0.0270, 0.0290, 0.0285, 0.0280, 0.0250, 0.0200, 0.0140, 0.0090, 0.0040, 0.0010, -0.0010],
    [-0.0010, -0.0015, -0.0020, -0.0012, -0.0010, -0.0005, -0.0008, -0.0005, 0.0000, -0.0004, 0.0000, 0.0120, 0.0170, 0.0190, 0.0200, 0.0170, 0.0110, 0.0050, 0.0020, 0.0000],
    [-0.0012, -0.0008, -0.0015, -0.0010, -0.0006, -0.0003, 0.0005, 0.0030, 0.0090, 0.0140, 0.0150, 0.0120, 0.0080, 0.0090, 0.0130, 0.0150, 0.0110, 0.0050, 0.0000, -0.0020],
    [-0.0006, -0.0012, -0.0020, -0.0014, -0.0010, -0.0008, -0.0002, 0.0012, 0.0060, 0.0150, 0.0230, 0.0270, 0.0250, 0.0190, 0.0120, 0.0030, -0.0050, -0.0040, -0.0030, -0.0020],
    [-0.0015, -0.0020, -0.0025, -0.0015, -0.0010, -0.0012, -0.0005, 0.0020, 0.0080, 0.0160, 0.0230, 0.0260, 0.0240, 0.0160, 0.0060, 0.0000, -0.0025, -0.0035, -0.0042],
    [-0.0005, -0.0015, -0.0020, -0.0035, -0.0057, -0.0030, -0.0018, -0.0012, -0.0008, -0.0002, 0.0010, 0.0050, 0.0130, 0.0210, 0.0260, 0.0250, 0.0180, 0.0100, 0.0050, 0.0030, 0.0025],
    [-0.0004, -0.0010, -0.0012, -0.0020, -0.0010, -0.0005, 0.0000, 0.0008, 0.0040, 0.0100, 0.0190, 0.0260, 0.0290, 0.0250, 0.0170, 0.0090, 0.0050, 0.0040, 0.0030],
    [-0.0008, -0.0018, -0.0012, -0.0010, -0.0016, -0.0008, -0.0004, 0.0006, 0.0030, 0.0090, 0.0180, 0.0240, 0.0260, 0.0220, 0.0140, 0.0070, 0.0040, 0.0030],
    [0.0000, -0.0008, -0.0005, -0.0012, -0.0008, -0.0003, 0.0005, 0.0030, 0.0080, 0.0150, 0.0210, 0.0260, 0.0270, 0.0230, 0.0160, 0.0100, 0.0070, 0.0060, 0.0050],
    [-0.0010, -0.0014, -0.0008, -0.0012, -0.0006, 0.0000, 0.0004, 0.0030, 0.0100, 0.0180, 0.0220, 0.0210, 0.0160, 0.0120, 0.0140, 0.0170, 0.0235, 0.0150, 0.0160],
    [-0.0006, -0.0010, -0.0016, -0.0012, -0.0008, -0.0010, -0.0002, 0.0010, 0.0050, 0.0120, 0.0200, 0.0250, 0.0240, 0.0200, 0.0160, 0.0150, 0.0140, 0.0125],
    [-0.0010, -0.0008, -0.0014, -0.0006, -0.0010, -0.0004, 0.0000, 0.0020, 0.0070, 0.0160, 0.0230, 0.0280, 0.0300, 0.0260, 0.0170, 0.0090, 0.0050, 0.0040, 0.0035],
    [-0.0012, -0.0016, -0.0010, -0.0016, -0.0014, -0.0008, -0.0004, 0.0005, 0.0030, 0.0090, 0.0170, 0.0220, 0.0230, 0.0190, 0.0110, 0.0040, 0.0000, -0.0015],
    [-0.0004, -0.0012, -0.0018, -0.0010, -0.0012, -0.0006, 0.0000, 0.0010, 0.0060, 0.0140, 0.0210, 0.0250, 0.0220, 0.0150, 0.0080, 0.0040, 0.0020, 0.0020],
    [-0.0002, -0.0006, -0.0012, -0.0008, -0.0004, -0.0002, 0.0002, 0.0015, 0.0070, 0.0140, 0.0200, 0.0230, 0.0210, 0.0150, 0.0090, 0.0050, 0.0035, 0.0030],
    [0.0005, 0.0002, -0.0010, -0.0006, -0.0012, -0.0008, -0.0006, -0.0002, 0.0005, -0.0030, 0.0060, 0.0170, 0.0230, 0.0240, 0.0190, 0.0110, 0.0050, 0.0020, 0.0010],
    [-0.0008, -0.0012, -0.0006, -0.0014, -0.0010, -0.0012, -0.0006, 0.0000, 0.0020, 0.0080, 0.0160, 0.0210, 0.0220, 0.0200, 0.0140, 0.0060, 0.0010, -0.0008],
    [0.0012, 0.0008, 0.0015, 0.0012, 0.0008, 0.0012, 0.0020, 0.0050, 0.0120, 0.0180, 0.0230, 0.0260, 0.0250, 0.0180, 0.0100, 0.0060, 0.0040, 0.0035],
    [-0.0012, -0.0006, -0.0015, -0.0018, -0.0010, -0.0006, -0.0010, 0.0000, 0.0040, 0.0110, 0.0180, 0.0220, 0.0200, 0.0140, 0.0070, 0.0030, 0.0015, 0.0015],
    [-0.0006, -0.0004, -0.0010, -0.0006, -0.0014, -0.0010, -0.0004, 0.0002, 0.0030, 0.0100, 0.0200, 0.0260, 0.0280, 0.0240, 0.0170, 0.0100, 0.0070, 0.0065, 0.0060],
    [-0.0010, -0.0016, -0.0012, -0.0008, -0.0004, -0.0008, 0.0000, 0.0030, 0.0100, 0.0170, 0.0200, 0.0190, 0.0160, 0.0120, 0.0060, 0.0010, -0.0025, -0.0028],
    [-0.0004, -0.0008, -0.0014, -0.0010, -0.0012, -0.0006, -0.0002, 0.0004, 0.0020, 0.0060, 0.0140, 0.0200, 0.0230, 0.0210, 0.0150, 0.0090, 0.0060, 0.0050, 0.0050],
    [-0.0002, -0.0008, -0.0004, -0.0010, -0.0006, -0.0002, 0.0010, 0.0040, 0.0120, 0.0190, 0.0240, 0.0250, 0.0190, 0.0100, 0.0040, 0.0010, 0.0010],
    [-0.0003, -0.0010, -0.0006, -0.0012, -0.0016, -0.0010, -0.0004, 0.0002, 0.0020, 0.0070, 0.0150, 0.0220, 0.0250, 0.0230, 0.0160, 0.0080, 0.0040, 0.0020, 0.0018],
    [-0.0010, -0.0004, -0.0014, -0.0008, -0.0018, -0.0010, -0.0006, -0.0012, -0.0004, -0.0008, 0.0000, 0.0020, 0.0070, 0.0150, 0.0220, 0.0270, 0.0260, 0.0200, 0.0120, 0.0060, 0.0030, 0.0025],
    [-0.0006, -0.0014, -0.0008, -0.0016, -0.0012, -0.0020, -0.0010, -0.0014, -0.0006, -0.0002, 0.0008, 0.0040, 0.0110, 0.0190, 0.0250, 0.0280, 0.0250, 0.0170, 0.0090, 0.0050, 0.0035, 0.0030],
    [0.0002, -0.0006, 0.0000, -0.0010, -0.0004, -0.0012, -0.0006, -0.0010, -0.0002, 0.0004, 0.0016, 0.0050, 0.0110, 0.0170, 0.0210, 0.0230, 0.0220, 0.0170, 0.0110, 0.0070, 0.0050, 0.0045],
    [-0.0012, -0.0020, -0.0014, -0.0022, -0.0016, -0.0012, -0.0018, -0.0010, -0.0006, -0.0002, 0.0010, 0.0060, 0.0140, 0.0210, 0.0250, 0.0240, 0.0180, 0.0100, 0.0040, 0.0010, 0.0000],
    [-0.0004, -0.0010, -0.0006, -0.0012, -0.0008, -0.0004, -0.0010, -0.0006, 0.0000, 0.0006, 0.0020, 0.0060, 0.0140, 0.0220, 0.0280, 0.0300, 0.0280, 0.0210, 0.0120, 0.0060, 0.0040, 0.0035],
    [-0.0008, -0.0012, -0.0018, -0.0010, -0.0014, -0.0008, -0.0012, -0.0004, -0.0008, -0.0002, 0.0004, 0.0020, 0.0060, 0.0130, 0.0200, 0.0240, 0.0230, 0.0170, 0.0090, 0.0030, 0.0005],
    [-0.0002, -0.0008, -0.0004, -0.0010, -0.0006, -0.0012, -0.0008, -0.0004, -0.0008, -0.0002, 0.0010, 0.0040, 0.0100, 0.0180, 0.0240, 0.0260, 0.0240, 0.0170, 0.0090, 0.0040, 0.0020, 0.0015],
    [-0.0010, -0.0006, -0.0012, -0.0008, -0.0014, -0.0006, -0.0002, -0.0006, 0.0000, 0.0010, 0.0030, 0.0080, 0.0160, 0.0220, 0.0260, 0.0250, 0.0190, 0.0110, 0.0060, 0.0040, 0.0035],
    [-0.0006, -0.0016, -0.0010, -0.0014, -0.0020, -0.0012, -0.0008, -0.0012, -0.0006, 0.0000, 0.0014, 0.0050, 0.0130, 0.0200, 0.0240, 0.0230, 0.0190, 0.0130, 0.0060, 0.0000, -0.0020, -0.0025],
    [0.0004, -0.0002, -0.0008, -0.0004, -0.0010, -0.0006, -0.0002, 0.0000, 0.0004, 0.0012, 0.0030, 0.0080, 0.0160, 0.0230, 0.0280, 0.0300, 0.0270, 0.0190, 0.0110, 0.0070, 0.0060, 0.0055],
    [-0.0014, -0.0008, -0.0016, -0.0010, -0.0006, -0.0012, -0.0016, -0.0008, -0.0004, -0.0010, -0.0002, 0.0010, 0.0050, 0.0120, 0.0190, 0.0230, 0.0220, 0.0160, 0.0080, 0.0030, 0.0015, 0.0010],
    [-0.0004, -0.0010, -0.0006, -0.0002, -0.0008, -0.0004, 0.0000, 0.0006, 0.0014, 0.0030, 0.0070, 0.0140, 0.0210, 0.0260, 0.0280, 0.0260, 0.0190, 0.0110, 0.0060, 0.0040, 0.0030],
    [-0.0008, -0.0002, -0.0010, -0.0006, -0.0012, -0.0008, -0.0014, -0.0006, -0.0010, -0.0004, 0.0004, 0.0020, 0.0070, 0.0150, 0.0210, 0.0250, 0.0250, 0.0200, 0.0130, 0.0080, 0.0060, 0.0055],
    [-0.0010, -0.0016, -0.0012, -0.0006, -0.0012, -0.0018, -0.0012, -0.0008, -0.0012, -0.0006, 0.0000, 0.0030, 0.0090, 0.0170, 0.0220, 0.0240, 0.0210, 0.0140, 0.0070, 0.0020, -0.0005],
    [0.0000, -0.0006, -0.0002, -0.0008, -0.0014, -0.0008, -0.0004, -0.0010, -0.0004, 0.0002, 0.0008, 0.0030, 0.0090, 0.0170, 0.0230, 0.0260, 0.0250, 0.0190, 0.0120, 0.0070, 0.0045, 0.0040],
]
yaw_global_dot_x = [
    56.0, 54.9, 56.1, 55.6, 56.8, 57.5, 58.0, 59.2, 54.6, 55.2, 55.5, 56.5, 57.1, 57.9,
    58.4, 53.3, 54.3, 55.9, 59.5, 60.0, 52.1, 53.6, 58.0, 58.6, 60.0, 50.0, 51.1, 52.0,
    52.8, 53.2, 53.8, 54.0, 54.5, 55.0, 55.3, 55.8, 56.1, 56.4, 56.8, 57.2, 57.6, 58.1,
    58.5, 59.0, 59.4, 60.3, 62.4, 56.2, 57.3, 57.9, 55.0, 54.2, 52.6, 53.1, 54.6, 55.7,
    57.0, 58.2, 56.3, 55.4, 54.3, 53.5, 59.8, 60.5, 57.6, 56.9, 55.2, 54.7, 56.0, 53.9,
    58.8, 57.4, 56.6,
]
yaw_global_dot_y = [
    0.0393, 0.0352, 0.0352, 0.0335, 0.0335, 0.0335, 0.0330, 0.0330, 0.0310, 0.0305, 0.0300, 0.0310, 0.0315, 0.0318,
    0.0323, 0.0288, 0.0285, 0.0290, 0.0288, 0.0288, 0.0258, 0.0270, 0.0275, 0.0262, 0.0262, 0.0195, 0.0175, 0.0195,
    0.0210, 0.0185, 0.0175, 0.0230, 0.0235, 0.0220, 0.0200, 0.0240, 0.0225, 0.0210, 0.0220, 0.0200, 0.0210, 0.0195,
    0.0220, 0.0240, 0.0235, 0.0245, 0.0193, 0.0255, 0.0255, 0.0265, 0.0265, 0.0260, 0.0168, 0.0145, 0.0143, 0.0170,
    0.0165, 0.0176, 0.0185, 0.0188, 0.0195, 0.0205, 0.0210, 0.0228, 0.0245, 0.0260, 0.0245, 0.0215, 0.0208, 0.0222,
    0.0285, 0.0285, 0.0275,
]

# ---------------- (d) Yaw rate in the local frame ----------------
yaw_local_x = [
    [13.5, 16, 19, 22, 25, 28, 31, 34, 37, 40, 43, 45, 47, 49, 51, 52.5, 53.4, 54.2, 54.8, 55.2],
    [13, 16, 19, 22, 25, 28, 31, 34, 37, 40, 43, 46, 48, 50, 52, 53.4, 54.2, 54.8, 55.3],
    [14, 17, 20, 23, 26, 29, 32, 35, 38, 41, 44, 47, 49, 51, 53, 55, 56, 56.5],
    [13, 16, 19, 22, 25, 28, 30, 32, 34, 36, 38, 40, 41.3, 43, 45, 47, 49, 51, 53, 54.5, 55.5, 56],
    [13, 17, 21, 25, 29, 33, 36, 39, 42, 44, 46, 47.5, 49, 50.5, 52, 53.5, 55, 56, 56.5],
    [13, 16, 19, 22, 25, 28, 31, 34, 37, 40, 43, 46, 48, 50, 52, 53, 53.5, 54, 54.5],
    [13, 16, 19, 21, 22.5, 24, 25.5, 27, 30, 33, 36, 39, 42, 45, 47, 49, 51, 53, 54.5, 55],
    [14, 17, 20, 23, 26, 29, 32, 35, 38, 41, 44, 46, 48, 50, 52, 54, 55, 55.6],
    [13, 16, 19, 22, 25, 28, 31, 34, 37, 40, 43, 46, 48, 50, 52, 53.5, 54.5, 55],
    [14, 17, 20, 23, 26, 29, 32, 35, 38, 41, 44, 47, 49, 51, 53, 54.5, 55.5, 56],
    [13, 16, 19, 22, 25, 28, 31, 34, 37, 40, 43, 46, 48, 50, 52, 54, 55, 55.4],
    [15, 18, 21, 24, 27, 30, 33, 36, 39, 42, 45, 47, 49, 51, 53, 54.5, 55.3],
    [14, 17, 20, 23, 26, 29, 32, 35, 38, 41, 44, 47, 49, 51, 53, 54.5, 55.5, 56.5, 57.2, 57.8],
    [13, 16, 19, 22, 25, 28, 31, 34, 37, 40, 43, 45, 47, 49, 51, 52.5, 53.5, 54.2],
    [16, 19, 22, 25, 28, 31, 34, 37, 40, 43, 46, 48, 50, 52, 53.5, 54.8, 55.5],
    [13, 16, 19, 22, 25, 28, 31, 34, 37, 40, 43, 46, 48, 50, 51.5, 53, 54, 54.6],
    [13, 16, 19, 22, 25, 28, 31, 34, 37, 40, 43, 46, 48, 50, 52, 53, 54, 54.5, 55],
    [14, 17, 20, 23, 26, 29, 32, 35, 38, 41, 44, 47, 49, 51, 53, 55, 56.2, 56.6],
    [13, 16, 19, 22, 25, 28, 31, 34, 37, 40, 42, 44, 46, 48, 50, 52, 54, 55.5, 56],
    [14, 17, 20, 23, 26, 29, 32, 35, 38, 41, 44, 46, 48, 50, 52, 53.5, 54.5, 55],
    [13, 16, 19, 22, 25, 28, 31, 34, 37, 40, 43, 45, 47, 49, 51, 53, 54.5, 55.3],
    [16, 19, 22, 25, 28, 31, 34, 37, 40, 43, 46, 48, 50, 51.5, 53, 54, 54.8],
    [13, 16, 19, 22, 25, 28, 31, 34, 37, 40, 43, 46, 48, 50, 52, 54, 55.5, 56.2],
    [17, 20, 23, 26, 29, 32, 35, 38, 41, 44, 46, 48, 50, 52, 53.5, 54.6, 55.2],
    [13, 15, 18, 21, 24, 27, 30, 33, 36, 39, 42, 45, 47, 49, 51, 53, 54.5, 55.2],
    [14, 17, 20, 23, 26, 29, 32, 35, 38, 41, 44, 47, 49, 51, 52.5, 53.5, 54, 54.3],
    [13, 15, 17, 19, 21, 23, 25, 27, 29, 31, 33, 35, 37, 39, 41, 43, 45, 47, 49, 51, 53, 54.5, 55.2],
    [14, 16, 18, 20, 22, 24, 26, 28, 30, 32, 34, 36, 38, 40, 42, 44, 46, 48, 50, 52, 54, 55.5, 56.1],
    [13, 15, 17, 19, 21, 23, 25, 27, 29, 31, 33, 35, 37, 39, 41, 43, 45, 47, 49, 51, 52.5, 53.8, 54.5],
    [15, 17, 19, 21, 23, 25, 27, 29, 31, 33, 35, 37, 39, 41, 43, 45, 47, 49, 51, 53, 54.5, 55.6, 56],
    [13, 15, 17, 19, 21, 23, 25, 27, 29, 31, 33, 35, 37, 39, 41, 43, 45, 47, 49, 51, 53, 54.6, 55.3],
    [14, 16, 18, 20, 22, 24, 26, 28, 30, 32, 34, 36, 38, 40, 42, 44, 46, 48, 50, 52, 53.5, 54.8, 55.4],
    [13, 15, 17, 19, 21, 23, 25, 27, 29, 31, 33, 35, 37, 39, 41, 43, 45, 47, 49, 51, 53, 55, 56.3],
    [16, 18, 20, 22, 24, 26, 28, 30, 32, 34, 36, 38, 40, 42, 44, 46, 48, 50, 52, 53.5, 54.5, 55],
    [13, 15, 17, 19, 21, 23, 25, 27, 29, 31, 33, 35, 37, 39, 41, 43, 45, 47, 49, 51, 53, 54.5, 55.5],
    [14, 16, 18, 20, 22, 24, 26, 28, 30, 32, 34, 36, 38, 40, 42, 44, 46, 48, 50, 52, 54, 55.5, 56.4],
    [13, 15, 17, 19, 21, 23, 25, 27, 29, 31, 33, 35, 37, 39, 41, 43, 45, 47, 49, 51, 52.5, 53.8, 54.4],
    [15, 17, 19, 21, 23, 25, 27, 29, 31, 33, 35, 37, 39, 41, 43, 45, 47, 49, 51, 53, 54.5, 55.5, 55.9],
    [13, 15, 17, 19, 21, 23, 25, 27, 29, 31, 33, 35, 37, 39, 41, 43, 45, 47, 49, 51, 53, 54.8, 55.6],
    [14, 16, 18, 20, 22, 24, 26, 28, 30, 32, 34, 36, 38, 40, 42, 44, 46, 48, 50, 52, 53.5, 54.7, 55.3],
    [13, 15, 17, 19, 21, 23, 25, 27, 29, 31, 33, 35, 37, 39, 41, 43, 45, 47, 49, 51, 53, 55, 56.6],
]
yaw_local_y = [
    [-0.0005, -0.0012, -0.0008, -0.0015, -0.0010, -0.0012, -0.0008, -0.0004, 0.0000, 0.0005, 0.0015, 0.0040, 0.0100, 0.0190, 0.0300, 0.0380, 0.0393, 0.0370, 0.0200, 0.0000],
    [-0.0004, -0.0010, -0.0016, -0.0008, -0.0014, -0.0010, -0.0006, -0.0002, 0.0000, 0.0006, 0.0020, 0.0070, 0.0140, 0.0230, 0.0310, 0.0352, 0.0340, 0.0150, -0.0010],
    [-0.0008, -0.0014, -0.0010, -0.0018, -0.0012, -0.0008, -0.0012, -0.0006, -0.0002, 0.0004, 0.0020, 0.0080, 0.0150, 0.0230, 0.0300, 0.0330, 0.0300, 0.0020],
    [-0.0004, -0.0008, -0.0004, 0.0002, 0.0010, 0.0012, 0.0018, 0.0025, 0.0040, 0.0060, 0.0090, 0.0110, 0.0138, 0.0150, 0.0190, 0.0230, 0.0260, 0.0290, 0.0300, 0.0290, 0.0200, 0.0010],
    [-0.0008, -0.0014, -0.0006, -0.0004, 0.0000, 0.0005, 0.0015, 0.0030, 0.0080, 0.0140, 0.0210, 0.0290, 0.0280, 0.0260, 0.0240, 0.0220, 0.0200, 0.0100, 0.0000],
    [-0.0010, -0.0016, -0.0012, -0.0018, -0.0010, -0.0014, -0.0008, -0.0010, -0.0004, -0.0006, 0.0000, 0.0002, 0.0004, 0.0008, 0.0004, 0.0006, 0.0150, 0.0190, 0.0000],
    [-0.0004, -0.0010, -0.0016, -0.0020, -0.0035, -0.0057, -0.0030, -0.0018, -0.0012, -0.0008, -0.0006, -0.0002, 0.0008, 0.0030, 0.0080, 0.0160, 0.0230, 0.0260, 0.0240, -0.0010],
    [-0.0015, -0.0020, -0.0025, -0.0015, -0.0010, -0.0012, -0.0006, -0.0010, -0.0004, 0.0000, 0.0020, 0.0050, 0.0120, 0.0190, 0.0240, 0.0260, 0.0240, -0.0030],
    [-0.0006, -0.0012, -0.0020, -0.0014, -0.0010, -0.0008, -0.0002, -0.0004, 0.0000, 0.0004, 0.0015, 0.0060, 0.0130, 0.0210, 0.0270, 0.0290, 0.0280, -0.0050],
    [-0.0004, -0.0010, -0.0012, -0.0020, -0.0010, -0.0005, 0.0000, -0.0004, 0.0002, 0.0008, 0.0030, 0.0100, 0.0170, 0.0240, 0.0290, 0.0310, 0.0290, 0.0020],
    [-0.0008, -0.0018, -0.0012, -0.0010, -0.0016, -0.0008, -0.0004, 0.0000, 0.0002, 0.0006, 0.0020, 0.0070, 0.0130, 0.0200, 0.0250, 0.0260, 0.0200, -0.0010],
    [0.0000, -0.0008, -0.0005, -0.0012, -0.0008, -0.0003, 0.0000, 0.0008, 0.0015, 0.0040, 0.0090, 0.0150, 0.0210, 0.0260, 0.0270, 0.0230, 0.0000],
    [-0.0010, -0.0014, -0.0008, -0.0012, -0.0006, 0.0000, 0.0004, 0.0000, 0.0004, 0.0010, 0.0030, 0.0080, 0.0140, 0.0200, 0.0250, 0.0220, 0.0100, 0.0140, 0.0160, 0.0195],
    [-0.0006, -0.0010, -0.0016, -0.0012, -0.0008, -0.0010, -0.0002, 0.0004, 0.0010, 0.0030, 0.0070, 0.0120, 0.0160, 0.0200, 0.0240, 0.0250, 0.0220, -0.0010],
    [-0.0004, -0.0012, -0.0018, -0.0010, -0.0012, -0.0006, -0.0008, 0.0000, 0.0002, 0.0012, 0.0040, 0.0090, 0.0160, 0.0220, 0.0250, 0.0240, -0.0005],
    [-0.0002, -0.0006, -0.0012, -0.0008, -0.0004, -0.0002, 0.0004, 0.0010, 0.0020, 0.0040, 0.0080, 0.0140, 0.0190, 0.0230, 0.0240, 0.0220, 0.0150, 0.0000],
    [0.0005, 0.0002, -0.0010, -0.0006, -0.0012, -0.0008, -0.0006, -0.0002, 0.0000, -0.0004, 0.0002, 0.0008, 0.0030, 0.0090, 0.0170, 0.0220, 0.0240, 0.0200, -0.0020],
    [-0.0008, -0.0012, -0.0006, -0.0014, -0.0010, -0.0012, -0.0006, 0.0000, 0.0004, 0.0008, 0.0020, 0.0060, 0.0110, 0.0170, 0.0230, 0.0280, 0.0300, 0.0010],
    [0.0012, 0.0008, 0.0015, 0.0012, 0.0008, 0.0012, 0.0015, 0.0020, 0.0030, 0.0050, 0.0080, 0.0110, 0.0150, 0.0190, 0.0230, 0.0260, 0.0270, 0.0250, 0.0000],
    [-0.0012, -0.0006, -0.0015, -0.0018, -0.0010, -0.0006, -0.0010, -0.0004, 0.0000, 0.0004, 0.0010, 0.0030, 0.0080, 0.0150, 0.0210, 0.0220, 0.0180, 0.0000],
    [-0.0006, -0.0004, -0.0010, -0.0006, -0.0014, -0.0010, -0.0004, 0.0000, 0.0006, 0.0016, 0.0040, 0.0080, 0.0140, 0.0200, 0.0250, 0.0280, 0.0270, -0.0005],
    [-0.0010, -0.0016, -0.0012, -0.0008, -0.0004, -0.0008, 0.0000, 0.0004, 0.0012, 0.0030, 0.0080, 0.0140, 0.0190, 0.0210, 0.0200, 0.0160, -0.0030],
    [-0.0004, -0.0008, -0.0014, -0.0010, -0.0012, -0.0006, -0.0002, 0.0004, 0.0008, 0.0016, 0.0030, 0.0070, 0.0120, 0.0180, 0.0240, 0.0270, 0.0260, 0.0000],
    [-0.0002, -0.0008, -0.0004, -0.0010, -0.0006, -0.0002, 0.0004, 0.0010, 0.0020, 0.0040, 0.0080, 0.0130, 0.0190, 0.0230, 0.0250, 0.0230, -0.0010],
    [-0.0003, -0.0010, -0.0006, -0.0012, -0.0016, -0.0010, -0.0004, 0.0002, 0.0008, 0.0016, 0.0040, 0.0090, 0.0140, 0.0190, 0.0240, 0.0250, 0.0240, -0.0010],
    [0.0015, 0.0010, 0.0005, 0.0000, -0.0004, -0.0010, -0.0006, 0.0000, 0.0006, 0.0014, 0.0030, 0.0060, 0.0100, 0.0150, 0.0190, 0.0200, 0.0150, -0.0040],
    [-0.0008, -0.0014, -0.0008, -0.0016, -0.0010, -0.0012, -0.0006, -0.0012, -0.0008, -0.0004, -0.0010, -0.0004, 0.0000, 0.0004, 0.0012, 0.0030, 0.0070, 0.0130, 0.0190, 0.0240, 0.0270, 0.0260, -0.0008],
    [-0.0004, -0.0012, -0.0006, -0.0014, -0.0020, -0.0012, -0.0008, -0.0014, -0.0010, -0.0004, -0.0008, -0.0002, 0.0002, 0.0006, 0.0014, 0.0030, 0.0060, 0.0110, 0.0170, 0.0230, 0.0280, 0.0290, 0.0010],
    [0.0002, -0.0004, -0.0010, -0.0006, -0.0012, -0.0008, -0.0004, -0.0008, -0.0002, 0.0000, -0.0004, 0.0002, 0.0008, 0.0016, 0.0030, 0.0060, 0.0100, 0.0150, 0.0190, 0.0220, 0.0230, 0.0200, -0.0005],
    [-0.0012, -0.0018, -0.0012, -0.0020, -0.0014, -0.0010, -0.0016, -0.0010, -0.0006, -0.0010, -0.0004, -0.0008, -0.0002, 0.0002, 0.0010, 0.0030, 0.0080, 0.0150, 0.0220, 0.0270, 0.0300, 0.0280, 0.0000],
    [-0.0006, -0.0010, -0.0004, -0.0010, -0.0016, -0.0010, -0.0006, -0.0002, -0.0008, -0.0004, 0.0000, 0.0004, 0.0010, 0.0020, 0.0040, 0.0080, 0.0130, 0.0180, 0.0220, 0.0250, 0.0260, 0.0230, -0.0020],
    [-0.0010, -0.0006, -0.0012, -0.0008, -0.0014, -0.0018, -0.0012, -0.0006, -0.0010, -0.0006, -0.0012, -0.0006, -0.0002, 0.0000, 0.0006, 0.0020, 0.0050, 0.0100, 0.0170, 0.0230, 0.0260, 0.0250, 0.0005],
    [-0.0002, -0.0008, -0.0004, -0.0010, -0.0006, -0.0002, -0.0008, -0.0004, 0.0000, -0.0004, 0.0002, 0.0006, 0.0012, 0.0024, 0.0040, 0.0070, 0.0110, 0.0160, 0.0210, 0.0250, 0.0280, 0.0300, 0.0005],
    [-0.0008, -0.0014, -0.0010, -0.0016, -0.0010, -0.0006, -0.0012, -0.0008, -0.0004, -0.0010, -0.0004, 0.0000, 0.0004, 0.0010, 0.0030, 0.0070, 0.0130, 0.0190, 0.0230, 0.0240, 0.0210, -0.0015],
    [-0.0010, -0.0016, -0.0012, -0.0006, -0.0012, -0.0008, -0.0014, -0.0010, -0.0006, -0.0002, -0.0006, 0.0000, 0.0004, 0.0010, 0.0020, 0.0050, 0.0090, 0.0150, 0.0210, 0.0260, 0.0290, 0.0300, -0.0025],
    [0.0004, -0.0002, -0.0008, -0.0004, -0.0010, -0.0006, -0.0002, -0.0006, 0.0000, 0.0004, 0.0000, 0.0006, 0.0010, 0.0020, 0.0040, 0.0080, 0.0130, 0.0180, 0.0230, 0.0270, 0.0290, 0.0280, 0.0015],
    [-0.0012, -0.0008, -0.0014, -0.0010, -0.0006, -0.0012, -0.0016, -0.0010, -0.0006, -0.0010, -0.0004, -0.0008, -0.0002, 0.0002, 0.0010, 0.0030, 0.0060, 0.0110, 0.0160, 0.0200, 0.0220, 0.0200, -0.0035],
    [-0.0006, -0.0010, -0.0006, -0.0012, -0.0008, -0.0004, -0.0010, -0.0006, -0.0002, 0.0002, -0.0002, 0.0004, 0.0010, 0.0018, 0.0030, 0.0060, 0.0110, 0.0170, 0.0230, 0.0270, 0.0280, 0.0260, 0.0000],
    [-0.0004, -0.0010, -0.0016, -0.0010, -0.0006, -0.0002, -0.0008, -0.0012, -0.0006, -0.0002, -0.0006, -0.0002, 0.0002, 0.0008, 0.0020, 0.0040, 0.0080, 0.0140, 0.0200, 0.0240, 0.0260, 0.0250, -0.0010],
    [-0.0010, -0.0004, -0.0010, -0.0016, -0.0010, -0.0006, -0.0012, -0.0008, -0.0004, -0.0008, -0.0002, 0.0002, 0.0000, 0.0006, 0.0016, 0.0036, 0.0070, 0.0120, 0.0180, 0.0220, 0.0240, 0.0220, 0.0000],
    [0.0000, -0.0006, -0.0002, -0.0008, -0.0014, -0.0008, -0.0004, -0.0010, -0.0004, 0.0002, -0.0002, 0.0004, 0.0008, 0.0014, 0.0026, 0.0050, 0.0090, 0.0150, 0.0210, 0.0250, 0.0280, 0.0310, 0.0020],
]
yaw_local_dot_x = [
    53.4, 53.4, 54.4, 53.4, 55.0, 55.1, 56.0, 56.2, 56.1, 51.2, 51.6, 52.6, 53.0, 54.1,
    54.8, 50.5, 51.2, 52.0, 52.8, 53.7, 55.9, 56.2, 48.7, 50.1, 50.7, 52.3, 53.2, 54.0,
    54.5, 55.1, 55.6, 55.5, 56.0, 46.0, 47.5, 48.2, 49.2, 49.5, 49.9, 50.2, 50.6, 51.0,
    51.4, 51.8, 52.0, 52.3, 52.6, 53.0, 53.3, 53.6, 53.9, 54.1, 54.4, 54.7, 55.0, 55.2,
    53.6, 52.4, 51.5, 50.4, 52.0, 52.6, 53.2, 57.8, 49.8, 51.0, 52.8, 54.6,
]
yaw_local_dot_y = [
    0.0393, 0.0352, 0.0352, 0.0335, 0.0330, 0.0330, 0.0330, 0.0322, 0.0305, 0.0305, 0.0310, 0.0308, 0.0310, 0.0305,
    0.0310, 0.0288, 0.0285, 0.0288, 0.0290, 0.0290, 0.0288, 0.0275, 0.0258, 0.0270, 0.0262, 0.0275, 0.0262, 0.0275,
    0.0262, 0.0278, 0.0275, 0.0250, 0.0245, 0.0195, 0.0180, 0.0175, 0.0165, 0.0205, 0.0230, 0.0220, 0.0190, 0.0185,
    0.0210, 0.0205, 0.0230, 0.0245, 0.0225, 0.0195, 0.0210, 0.0235, 0.0240, 0.0215, 0.0205, 0.0225, 0.0235, 0.0215,
    0.0185, 0.0175, 0.0165, 0.0155, 0.0140, 0.0145, 0.0155, 0.0195, 0.0215, 0.0245, 0.0265, 0.0248,
]

captions = [
    "(a) Speed in the global frame",
    "(b) Speed in the local frame",
    "(c) Yaw rate in the global frame",
    "(d) Yaw rate in the local frame",
]
x_title = "x (m)"
speed_title = "Speed (m/s)"
yaw_title = "Yaw rate (rad/s)"

TAB10 = ['#1f77b4', '#ff7f0e', '#2ca02c', '#d62728', '#9467bd',
         '#8c564b', '#e377c2', '#7f7f7f', '#bcbd22', '#17becf']
FONT = "DejaVu Sans"
CAP_FONT = "Liberation Sans"
TICK_FS = 21
TITLE_FS = 22
CAP_FS = 25.5
W, H = 1099, 780

fig = go.Figure()


def add_panel(xs, ys, dx, dy, axx, axy, shape):
    for i, (x, y) in enumerate(zip(xs, ys)):
        fig.add_trace(go.Scatter(
            x=x, y=y, mode='lines',
            line=dict(color=TAB10[i % 10], width=1, shape=shape),
            opacity=0.5, xaxis=axx, yaxis=axy,
            showlegend=False, hoverinfo='skip'))
    fig.add_trace(go.Scatter(
        x=dx, y=dy, mode='markers',
        marker=dict(color='red', size=6, opacity=0.4, line=dict(width=0)),
        xaxis=axx, yaxis=axy, showlegend=False, hoverinfo='skip'))


add_panel(speed_global_x, speed_global_y, speed_global_dot_x, speed_global_dot_y, 'x', 'y', 'spline')
add_panel(speed_local_x, speed_local_y, speed_local_dot_x, speed_local_dot_y, 'x2', 'y2', 'spline')
add_panel(yaw_global_x, yaw_global_y, yaw_global_dot_x, yaw_global_dot_y, 'x3', 'y3', 'linear')
add_panel(yaw_local_x, yaw_local_y, yaw_local_dot_x, yaw_local_dot_y, 'x4', 'y4', 'linear')


def axis(px0, px1, rng, tickvals, anchor, horizontal, fmt=None):
    if horizontal:
        dom = [px0 / W, px1 / W]
    else:
        dom = [1 - px1 / H, 1 - px0 / H]
    d = dict(domain=dom, range=rng, tickvals=tickvals, anchor=anchor,
             showline=True, mirror=True, linecolor='black', linewidth=1,
             ticks='outside', ticklen=5, tickwidth=1, tickcolor='black',
             showgrid=False, zeroline=False,
             tickfont=dict(family=FONT, size=TICK_FS, color='black'))
    if horizontal:
        d['ticklabelstandoff'] = -3
    if fmt:
        d['tickformat'] = fmt
    return d


speed_ticks = [0, 5, 10]
yaw_ticks = [0.0, 0.01, 0.02, 0.03, 0.04]

fig.update_layout(
    width=W, height=H,
    margin=dict(l=0, r=0, t=0, b=0),
    paper_bgcolor='white', plot_bgcolor='white',
    xaxis=axis(99, 534, [23.8, 71.3], [30, 40, 50, 60, 70], 'y', True),
    yaxis=axis(6, 288, [-1.0, 14.15], speed_ticks, 'x', False),
    xaxis2=axis(645, 1080, [10.37, 60.06], [20, 30, 40, 50, 60], 'y2', True),
    yaxis2=axis(6.5, 289, [-0.97, 14.18], speed_ticks, 'x2', False),
    xaxis3=axis(100, 534.3, [23.8, 71.3], [30, 40, 50, 60, 70], 'y3', True),
    yaxis3=axis(405.7, 687.7, [-0.0083, 0.0421], yaw_ticks, 'x3', False, '.2f'),
    xaxis4=axis(647, 1082, [10.44, 60.38], [20, 30, 40, 50, 60], 'y4', True),
    yaxis4=axis(405.7, 687.7, [-0.0083, 0.0421], yaw_ticks, 'x4', False, '.2f'),
)


def text(px, py, s, family, size, angle=0):
    fig.add_annotation(x=px / W, y=1 - py / H, xref='paper', yref='paper',
                       text=s, showarrow=False, textangle=angle,
                       xanchor='center', yanchor='middle',
                       font=dict(family=family, size=size, color='black'))


# x-axis titles
text(316.5, 336, x_title, FONT, TITLE_FS)
text(862.5, 336, x_title, FONT, TITLE_FS)
text(317, 736, x_title, FONT, TITLE_FS)
text(864, 736, x_title, FONT, TITLE_FS)
# y-axis titles
text(42, 147, speed_title, FONT, TITLE_FS, -90)
text(589, 148, speed_title, FONT, TITLE_FS, -90)
text(21, 547, yaw_title, FONT, TITLE_FS, -90)
text(568, 547, yaw_title, FONT, TITLE_FS, -90)
# captions
text(304, 367, captions[0], CAP_FONT, CAP_FS)
text(855, 367, captions[1], CAP_FONT, CAP_FS)
text(317, 767, captions[2], CAP_FONT, CAP_FS)
text(868, 767, captions[3], CAP_FONT, CAP_FS)

fig.write_html("out.html")
